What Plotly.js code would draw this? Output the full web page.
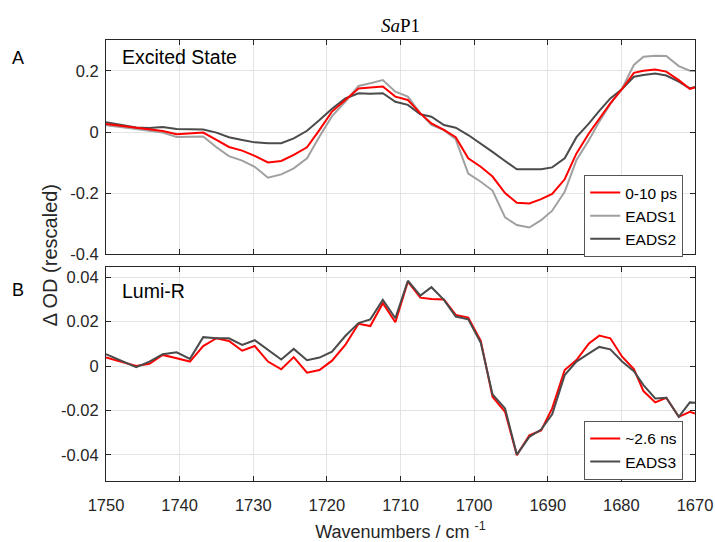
<!DOCTYPE html>
<html>
<head>
<meta charset="utf-8">
<script src="https://cdn.plot.ly/plotly-3.0.1.min.js"></script>
<style>html,body{margin:0;padding:0;background:#fff;}#chart{width:715px;height:542px;}</style>
</head>
<body>
<div id="chart"></div>
<script>
// Wavenumbers (cm^-1)
const wavenumbers = [1750.0,1747.9,1745.9,1744.1,1742.3,1740.4,1738.6,1736.8,1735.0,1733.3,1731.5,1729.8,1728.0,1726.2,1724.5,1722.7,1721.0,1719.3,1717.5,1715.7,1714.1,1712.4,1710.7,1709.0,1707.3,1705.8,1704.1,1702.5,1700.8,1699.1,1697.5,1695.8,1694.2,1692.5,1690.9,1689.4,1687.7,1686.1,1684.4,1683.0,1681.5,1679.9,1678.3,1677.0,1675.4,1673.9,1672.2,1670.7,1670.0];

// Panel A: Excited State
const ps0_10 = [0.026,0.020,0.013,0.007,0.003,-0.007,-0.005,-0.002,-0.026,-0.049,-0.061,-0.078,-0.100,-0.095,-0.075,-0.050,0.007,0.067,0.105,0.143,0.146,0.149,0.116,0.105,0.061,0.028,0.007,-0.017,-0.086,-0.114,-0.146,-0.200,-0.232,-0.234,-0.220,-0.203,-0.155,-0.070,-0.004,0.045,0.094,0.141,0.194,0.201,0.205,0.198,0.170,0.141,0.146];
const eads1 = [0.022,0.017,0.010,0.004,-0.002,-0.016,-0.015,-0.015,-0.050,-0.079,-0.094,-0.114,-0.150,-0.139,-0.119,-0.086,-0.015,0.052,0.099,0.151,0.160,0.170,0.132,0.116,0.061,0.023,0.006,-0.024,-0.136,-0.163,-0.192,-0.280,-0.305,-0.313,-0.289,-0.258,-0.196,-0.092,-0.026,0.034,0.092,0.143,0.220,0.247,0.250,0.249,0.216,0.201,0.200];
const eads2 = [0.032,0.023,0.015,0.013,0.016,0.010,0.009,0.008,-0.002,-0.017,-0.026,-0.034,-0.037,-0.037,-0.021,0.004,0.039,0.076,0.110,0.127,0.125,0.127,0.099,0.089,0.058,0.050,0.023,0.014,-0.010,-0.037,-0.065,-0.095,-0.122,-0.122,-0.122,-0.116,-0.086,-0.017,0.028,0.069,0.110,0.141,0.181,0.187,0.192,0.185,0.165,0.143,0.148];

// Panel B: Lumi-R
const ns2_6 = [0.0038,0.0020,0.0000,0.0010,0.0050,0.0035,0.0020,0.0090,0.0125,0.0113,0.0069,0.0090,0.0020,-0.0015,0.0040,-0.0030,-0.0018,0.0024,0.0095,0.0190,0.0180,0.0283,0.0197,0.0380,0.0308,0.0302,0.0300,0.0230,0.0218,0.0113,-0.0139,-0.0206,-0.0402,-0.0312,-0.0290,-0.0191,-0.0018,0.0027,0.0102,0.0137,0.0125,0.0042,-0.0014,-0.0113,-0.0164,-0.0143,-0.0229,-0.0206,-0.0214];
const eads3 = [0.0053,0.0025,-0.0005,0.0020,0.0053,0.0062,0.0032,0.0130,0.0125,0.0125,0.0095,0.0116,0.0072,0.0029,0.0077,0.0026,0.0038,0.0065,0.0135,0.0193,0.0210,0.0298,0.0215,0.0384,0.0317,0.0355,0.0298,0.0223,0.0210,0.0105,-0.0128,-0.0191,-0.0399,-0.0319,-0.0286,-0.0218,-0.0041,0.0020,0.0057,0.0086,0.0075,0.0020,-0.0023,-0.0086,-0.0146,-0.0143,-0.0229,-0.0164,-0.0166];

const xTicks = [1750,1740,1730,1720,1710,1700,1690,1680,1670];
const yTicksA = [-0.4,-0.2,0,0.2];
const yTicksALabels = ["-0.4","-0.2","0","0.2"];
const yTicksB = [-0.04,-0.02,0,0.02,0.04];
const yTicksBLabels = ["-0.04","-0.02","0","0.02","0.04"];

const RED = "#ff0000", LIGHT = "rgb(160,160,160)", DARK = "rgb(75,75,75)";
const FONT = "Liberation Sans, Arial, sans-serif";
const AX = "#262626";

const traces = [
  {x: wavenumbers, y: eads1, name: "EADS1", xaxis: "x2", yaxis: "y2", mode: "lines", line: {color: LIGHT, width: 2}, legend: "legend", legendrank: 2},
  {x: wavenumbers, y: eads2, name: "EADS2", xaxis: "x2", yaxis: "y2", mode: "lines", line: {color: DARK, width: 2}, legend: "legend", legendrank: 3},
  {x: wavenumbers, y: ps0_10, name: "0-10 ps", xaxis: "x2", yaxis: "y2", mode: "lines", line: {color: RED, width: 2}, legend: "legend", legendrank: 1},
  {x: wavenumbers, y: ns2_6, name: "~2.6 ns", xaxis: "x", yaxis: "y", mode: "lines", line: {color: RED, width: 2}, legend: "legend2", legendrank: 1},
  {x: wavenumbers, y: eads3, name: "EADS3", xaxis: "x", yaxis: "y", mode: "lines", line: {color: DARK, width: 2}, legend: "legend2", legendrank: 2}
];

const axCommon = {
  showline: true, linecolor: AX, linewidth: 1, mirror: "ticks",
  ticks: "inside", ticklen: 5, tickcolor: AX,
  showgrid: true, gridcolor: "#e3e3e3", gridwidth: 1, zeroline: false,
  tickfont: {family: FONT, size: 16.5, color: AX}
};

const legendCommon = {
  bgcolor: "#ffffff", bordercolor: "#555555", borderwidth: 1,
  font: {family: FONT, size: 15.5, color: "#000"},
  xanchor: "right", yanchor: "top", xref: "paper", yref: "paper",
  tracegroupgap: 0, itemwidth: 30, traceorder: "normal"
};

const layout = {
  width: 715, height: 542,
  margin: {l: 106, r: 20, t: 40, b: 61},
  paper_bgcolor: "#fff", plot_bgcolor: "#fff",
  showlegend: true,
  title: {text: "<i>Sa</i>P1", font: {family: "Liberation Serif, DejaVu Serif, serif", size: 19, color: "#000"}, xref: "paper", x: 0.5, xanchor: "center", yref: "container", y: 0.953, yanchor: "middle"},
  xaxis: Object.assign({}, axCommon, {domain: [0,1], anchor: "y", range: [1750,1670], tickvals: xTicks, ticktext: xTicks.map(String), ticklabelstandoff: 9,
    title: {text: "Wavenumbers / cm <sup>-1</sup>", font: {family: FONT, size: 18, color: AX}, standoff: 12}}),
  yaxis: Object.assign({}, axCommon, {domain: [0, 0.4853], anchor: "x", range: [-0.0518, 0.0446], tickvals: yTicksB, ticktext: yTicksBLabels, ticklabelstandoff: 3}),
  xaxis2: Object.assign({}, axCommon, {domain: [0,1], anchor: "y2", matches: "x", range: [1750,1670], tickvals: xTicks, showticklabels: false}),
  yaxis2: Object.assign({}, axCommon, {domain: [0.5147, 1], anchor: "x2", range: [-0.4, 0.3016], tickvals: yTicksA, ticktext: yTicksALabels, ticklabelstandoff: 3}),
  legend: Object.assign({}, legendCommon, {x: 0.98, y: 0.694}),
  legend2: Object.assign({}, legendCommon, {x: 0.98, y: 0.1365}),
  annotations: [
    {text: "Δ OD (rescaled)", textangle: -90, xref: "paper", yref: "paper", x: -0.095, y: 0.512, showarrow: false, xanchor: "center", yanchor: "middle", font: {family: FONT, size: 20, color: AX}},
    {text: "A", xref: "paper", yref: "paper", x: -0.15, y: 0.959, showarrow: false, xanchor: "center", yanchor: "middle", font: {family: FONT, size: 18, color: "#000"}},
    {text: "B", xref: "paper", yref: "paper", x: -0.15, y: 0.433, showarrow: false, xanchor: "center", yanchor: "middle", font: {family: FONT, size: 18, color: "#000"}},
    {text: "Excited State", xref: "paper", yref: "paper", x: 0.024, y: 0.9615, showarrow: false, xanchor: "left", yanchor: "middle", font: {family: FONT, size: 19.5, color: "#000"}},
    {text: "Lumi-R", xref: "paper", yref: "paper", x: 0.024, y: 0.431, showarrow: false, xanchor: "left", yanchor: "middle", font: {family: FONT, size: 19.5, color: "#000"}}
  ]
};

Plotly.newPlot("chart", traces, layout, {staticPlot: true, displayModeBar: false});
</script>
</body>
</html>
